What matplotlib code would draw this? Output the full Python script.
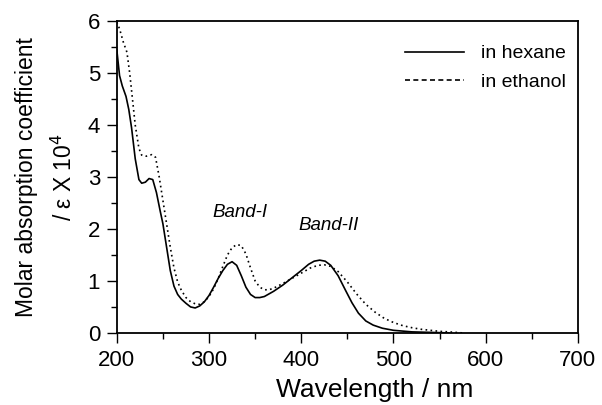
import matplotlib
matplotlib.use('Agg')
import matplotlib.pyplot as plt
from matplotlib.lines import Line2D
from matplotlib.ticker import MultipleLocator

plt.rcParams['font.family'] = ['Liberation Sans', 'DejaVu Sans']

# absorption spectra (wavelength nm, epsilon x 10^4)
hex_wl = [200, 203, 206, 210, 213, 216, 220, 224, 227, 231, 235, 239, 243,
          247, 250, 254, 258, 262, 266, 270, 275, 280, 285, 290, 295, 300,
          305, 310, 315, 320, 325, 330, 335, 340, 345, 350, 355, 360, 370,
          380, 390, 400, 408, 414, 420, 426, 432, 440, 448, 455, 462, 470,
          478, 488, 500, 520, 540, 560]
hex_eps = [5.45, 4.95, 4.75, 4.55, 4.3, 3.95, 3.35, 2.95, 2.88, 2.9, 2.97,
           2.95, 2.7, 2.35, 2.1, 1.65, 1.2, 0.9, 0.74, 0.65, 0.57, 0.5, 0.48,
           0.52, 0.6, 0.72, 0.88, 1.05, 1.2, 1.32, 1.37, 1.3, 1.1, 0.88, 0.74,
           0.68, 0.68, 0.7, 0.8, 0.92, 1.06, 1.2, 1.32, 1.38, 1.4, 1.38, 1.3,
           1.1, 0.82, 0.58, 0.38, 0.23, 0.15, 0.09, 0.05, 0.02, 0.01, 0.0]

eth_wl = [200, 203, 207, 211, 214, 217, 220, 224, 227, 232, 238, 242, 246,
          250, 254, 258, 262, 266, 270, 275, 280, 285, 290, 295, 300, 305,
          310, 315, 320, 325, 330, 335, 340, 345, 350, 355, 360, 365, 370,
          380, 390, 400, 410, 418, 425, 432, 440, 450, 460, 470, 480, 490,
          500, 510, 520, 530, 540, 550, 560, 575]
eth_eps = [5.98, 5.85, 5.6, 5.4, 5.0, 4.5, 4.0, 3.55, 3.42, 3.4, 3.43, 3.38,
           3.0, 2.55, 2.1, 1.65, 1.25, 0.98, 0.82, 0.68, 0.6, 0.56, 0.55, 0.6,
           0.7, 0.85, 1.05, 1.28, 1.5, 1.64, 1.7, 1.68, 1.52, 1.25, 1.0, 0.88,
           0.83, 0.83, 0.86, 0.95, 1.05, 1.15, 1.25, 1.3, 1.31, 1.28, 1.18,
           0.98, 0.75, 0.55, 0.4, 0.28, 0.2, 0.14, 0.1, 0.07, 0.05, 0.03,
           0.02, 0.0]

fig = plt.figure(figsize=(6.02, 4.05), dpi=100)
ax = fig.add_axes([0.194, 0.178, 0.766, 0.770])

ax.plot(hex_wl, hex_eps, color='black', lw=1.2)
ax.plot(eth_wl, eth_eps, color='black', lw=1.2, linestyle=(0, (1, 2)))

ax.set_xlim(200, 700)
ax.set_ylim(0, 6)
ax.xaxis.set_major_locator(MultipleLocator(100))
ax.xaxis.set_minor_locator(MultipleLocator(50))
ax.yaxis.set_major_locator(MultipleLocator(1))
ax.yaxis.set_minor_locator(MultipleLocator(0.5))
ax.tick_params(which='both', direction='out', labelsize=16, width=1)
ax.tick_params(which='major', length=7, pad=5)
ax.tick_params(which='minor', length=4)
for s in ax.spines.values():
    s.set_linewidth(1.3)

ax.set_xlabel('Wavelength / nm', fontsize=19, labelpad=0)
ax.xaxis.set_label_coords(0.56, -0.145)
ax.set_ylabel('Molar absorption coefficient\n/ ε X 10$^4$', fontsize=16.5,
              labelpad=8, linespacing=1.65)

ax.text(334, 2.31, 'Band-I', fontsize=13.5, style='italic',
        ha='center', va='center')
ax.text(430, 2.06, 'Band-II', fontsize=13.5, style='italic',
        ha='center', va='center')

handles = [Line2D([], [], color='black', lw=1.2),
           Line2D([], [], color='black', lw=1.2, linestyle=(0, (3, 2)))]
ax.legend(handles, ['in hexane', 'in ethanol'], loc='upper right',
          frameon=False, fontsize=14, handlelength=3.0, handletextpad=0.9,
          labelspacing=0.55, bbox_to_anchor=(1.012, 0.98))

fig.savefig('out.png', dpi=100)
